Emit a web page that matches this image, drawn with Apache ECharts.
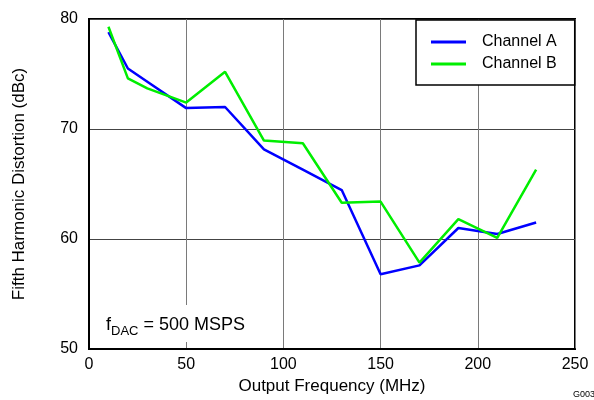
<!DOCTYPE html>
<html>
<head>
<meta charset="utf-8">
<script src="https://cdn.jsdelivr.net/npm/echarts@6/dist/echarts.min.js"></script>
<style>html,body{margin:0;padding:0;background:#fff;overflow:hidden}#c{width:594px;height:400px}</style>
</head>
<body>
<div id="c"></div>
<script>
const freqMHz = [10, 20, 30, 50, 70, 90, 110, 130, 150, 170, 190, 210, 230];
const channelA = [78.8, 75.5, 74.3, 71.9, 72.0, 68.15, 66.3, 64.45, 56.8, 57.6, 61.0, 60.45, 61.5];
const channelB = [79.3, 74.6, 73.7, 72.4, 75.2, 68.95, 68.7, 63.3, 63.4, 57.85, 61.8, 60.1, 66.3];
const seriesNames = ['Channel A', 'Channel B'];
const xTitle = 'Output Frequency (MHz)';
const yTitle = 'Fifth Harmonic Distortion (dBc)';

const chart = echarts.init(document.getElementById('c'), null, {renderer: 'canvas'});
const font = 'Liberation Sans, Arial, Helvetica, sans-serif';
const pairs = (ys) => freqMHz.map((x, i) => [x, ys[i]]);

chart.setOption({
  animation: false,
  backgroundColor: '#fff',
  textStyle: {fontFamily: font, color: '#000'},
  grid: {left: 89, top: 19, right: 19, bottom: 51, show: true, borderColor: '#000', borderWidth: 2, backgroundColor: 'transparent'},
  xAxis: {
    type: 'value', min: 0, max: 250, interval: 50,
    name: xTitle, nameLocation: 'middle', nameGap: 25,
    nameTextStyle: {fontSize: 17, color: '#000', fontFamily: font},
    axisLine: {show: true, lineStyle: {color: '#000', width: 2}},
    axisTick: {show: false},
    axisLabel: {fontSize: 16, color: '#000', margin: 8, fontFamily: font},
    splitLine: {show: true, lineStyle: {color: '#7a7a7a', width: 1}}
  },
  yAxis: {
    type: 'value', min: 50, max: 80, interval: 10,
    name: yTitle, nameLocation: 'middle', nameGap: 61,
    nameTextStyle: {fontSize: 17, color: '#000', fontFamily: font},
    axisLine: {show: true, lineStyle: {color: '#000', width: 2}},
    axisTick: {show: false},
    axisLabel: {fontSize: 16, color: '#000', margin: 11, fontFamily: font},
    splitLine: {show: true, lineStyle: {color: '#444', width: 1}}
  },
  legend: {
    orient: 'vertical', left: 416, top: 20,
    data: seriesNames,
    icon: 'rect', itemWidth: 35, itemHeight: 3, itemGap: 6,
    padding: [14, 18, 13, 15],
    borderColor: '#000', borderWidth: 1.5, backgroundColor: '#fff',
    textStyle: {fontSize: 16, color: '#000', fontFamily: font, padding: [0, 0, 0, 11]}
  },
  graphic: [
    {
      type: 'text', left: 102, top: 305, z: 5,
      style: {
        text: '{a|f}{b|DAC}{a| = 500 MSPS}',
        backgroundColor: '#fff', padding: [7, 4, 8, 4],
        rich: {
          a: {fontSize: 18, fontFamily: font, fill: '#000', lineHeight: 22, verticalAlign: 'bottom'},
          b: {fontSize: 13, fontFamily: font, fill: '#000', lineHeight: 22, verticalAlign: 'bottom', padding: [0, 0, -4, 0]}
        }
      }
    },
    {
      type: 'text', left: 573, top: 390,
      style: {text: 'G003', fontSize: 9, fontFamily: font, fill: '#000'}
    }
  ],
  series: [
    {name: seriesNames[0], type: 'line', data: pairs(channelA), symbol: 'none', z: 3,
     lineStyle: {color: '#0000ff', width: 2.5}, itemStyle: {color: '#0000ff'}},
    {name: seriesNames[1], type: 'line', data: pairs(channelB), symbol: 'none', z: 4,
     lineStyle: {color: '#00ee00', width: 2.5}, itemStyle: {color: '#00ee00'}}
  ]
});
</script>
</body>
</html>
